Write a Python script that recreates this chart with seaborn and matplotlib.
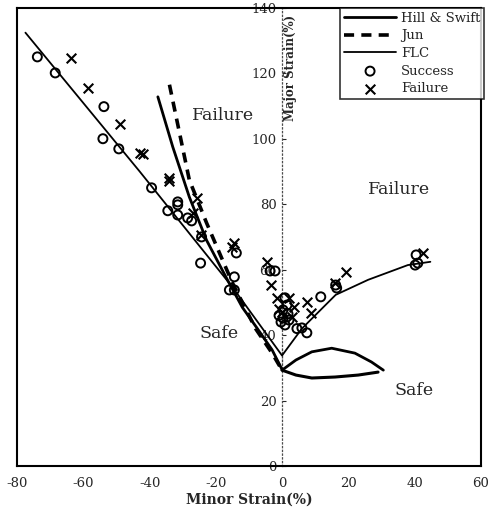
import matplotlib
matplotlib.use('Agg')
import matplotlib.pyplot as plt
import seaborn as sns
import pandas as pd
import numpy as np

# curves
hill_x = [-37.5, -33, -28, -22.8, -16.5, -12, -7.8, -3, 0]
hill_y = [112.8, 97.5, 82.2, 69, 56.9, 48.5, 42.5, 35.5, 29.5]
swift_x = [0, 4.2, 9, 15, 22, 27, 30.6]
swift_y = [29.3, 32.4, 34.9, 36, 34.5, 31.8, 29.3]
jun_x = [-34, -28, -22.8, -18, -15, -8, -3, 0]
jun_y = [116.5, 87.4, 74.3, 63, 56, 42, 34.5, 29.3]
jun_r_x = [0, 4.2, 9, 16, 23, 29]
jun_r_y = [29.3, 27.8, 26.9, 27.2, 27.8, 28.7]
flc_x = [-77.5, -43, -15, 0, 0, 0, 6, 16.2, 26, 38, 44.8]
flc_y = [132.4, 90, 54.7, 36, 29.3, 36, 42, 52.3, 56.9, 61.4, 62.4]

# experiments
success_x = [-73.9, -68.5, -53.8, -54.1, -49.3, -39.4, -34.5, -31.5, -31.5, -31.5,
             -28.5, -27.3, -24.3, -24.6, -13.8, -14.4, -15.9, -14.4, -3.6, -2.1,
             0.9, 0.3, 0.3, 0.9, 2.1, -0.3, 1.5, -0.9, 1.8, 6, 7.5, 4.5, 11.7,
             16.2, 16.5, 40.5, 40.2, 41]
success_y = [125, 120.1, 109.8, 100, 96.9, 85, 78, 76.7, 80.7, 79.8,
             75.8, 74.9, 70, 62, 65.1, 57.8, 53.8, 53.8, 59.6, 59.6,
             51.4, 47.7, 45.2, 43.1, 44.6, 44, 49.2, 46, 46.5, 42.2, 40.7, 42, 51.7,
             55.3, 54.4, 64.5, 61.4, 62]
failure_x = [-63.7, -58.6, -49, -43, -42, -34.2, -34.2, -25.8, -27, -24.5, -15, -14.4,
             -4.5, -3.3, -1.5, 2.1, 3.6, 3, 7.5, 8.7, 19.2, 42.7, 0, -1, 16]
failure_y = [124.7, 115.6, 104.6, 95.7, 95.4, 87.1, 87.9, 81.9, 77.3, 70.5, 67, 68.2,
             62.4, 55.3, 51.4, 51.4, 48.6, 45.6, 50.1, 46.8, 59.3, 65.1, 47, 48, 56]

xticks = [-80, -60, -40, -20, 0, 20, 40, 60]
yticks = [0, 20, 40, 60, 80, 100, 120, 140]

sns.set_style('white')
plt.rcParams['font.family'] = ['DejaVu Serif']

fig = plt.figure(figsize=(4.9, 5.19), dpi=100)
ax = fig.add_axes([0.035, 0.102, 0.946, 0.883])

sns.lineplot(x=hill_x, y=hill_y, sort=False, color='k', lw=2.0, ax=ax, label='Hill & Swift')
sns.lineplot(x=swift_x, y=swift_y, sort=False, color='k', lw=2.0, ax=ax)
sns.lineplot(x=jun_x, y=jun_y, sort=False, color='k', lw=2.6, ax=ax, label='Jun',
             linestyle=(0, (2.8, 2.0)))
sns.lineplot(x=jun_r_x, y=jun_r_y, sort=False, color='k', lw=2.2, ax=ax)
sns.lineplot(x=flc_x, y=flc_y, sort=False, color='k', lw=1.3, ax=ax, label='FLC')
sns.scatterplot(x=success_x, y=success_y, marker='o', s=42, facecolor='none',
                edgecolor='k', linewidth=1.4, ax=ax, label='Success', zorder=3)
sns.scatterplot(x=failure_x, y=failure_y, marker='x', s=48, color='k',
                linewidth=1.5, ax=ax, label='Failure', zorder=3)

ax.set_xlim(-80, 60)
ax.set_ylim(0, 140)
ax.set_xticks(xticks)
ax.set_xticklabels([str(t) for t in xticks], fontsize=9.5)
ax.tick_params(axis='x', direction='in', length=3, pad=8)
ax.set_yticks([])
for s in ax.spines.values():
    s.set_color('k')
    s.set_linewidth(1.5)

# y axis drawn through minor strain = 0
sec = ax.secondary_yaxis(80 / 140)
sec.set_yticks(yticks)
sec.set_yticklabels([str(t) for t in yticks], fontsize=9.5)
sec.yaxis.set_ticks_position('left')
sec.tick_params(direction='in', length=3, pad=4, labelleft=True, labelright=False)
for side in ('left', 'right'):
    sec.spines[side].set_linestyle((0, (1, 2)))
    sec.spines[side].set_linewidth(0.9)
    sec.spines[side].set_color('0.3')

ax.set_xlabel('Minor Strain(%)', fontsize=10, fontweight='bold', labelpad=2)
ax.text(0.59, 0.985, 'Major Strain(%)', transform=ax.transAxes, rotation=90,
        ha='center', va='top', fontsize=8.5, fontweight='bold')

ax.text(-27.3, 107, 'Failure', fontsize=12.5, va='center')
ax.text(26, 84.4, 'Failure', fontsize=12.5, va='center')
ax.text(-25, 40.4, 'Safe', fontsize=12.5, va='center')
ax.text(34, 23, 'Safe', fontsize=12.5, va='center')

leg = ax.legend(loc='upper right', bbox_to_anchor=(1.008, 1.0), borderaxespad=0,
                fontsize=9.5, handlelength=3.9, handletextpad=0.4, frameon=True,
                fancybox=False, labelspacing=0.35, borderpad=0.3)
leg.get_frame().set_edgecolor('k')
leg.get_frame().set_linewidth(1.2)

fig.savefig('out.png', dpi=100)
